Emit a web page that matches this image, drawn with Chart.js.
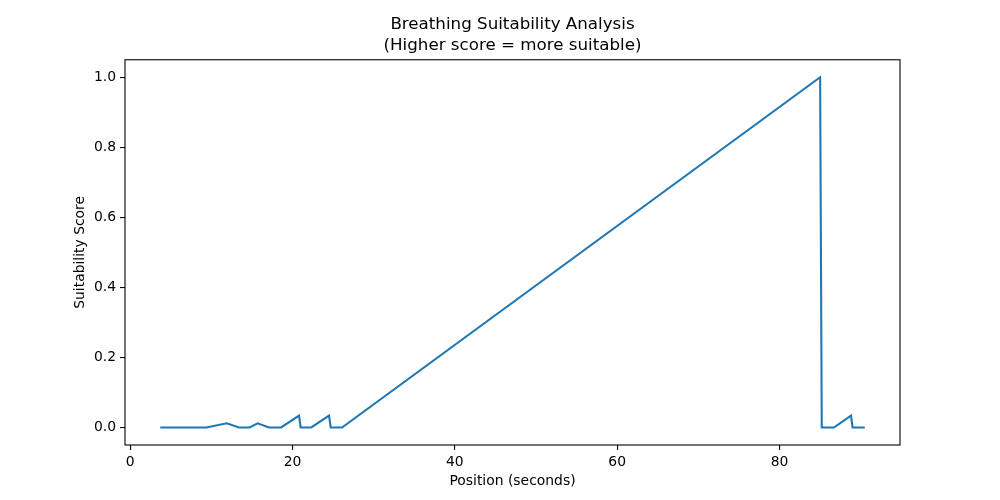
<!DOCTYPE html>
<html>
<head>
<meta charset="utf-8">
<script src="https://cdn.jsdelivr.net/npm/chart.js@4/dist/chart.umd.min.js"></script>
<style>
  html, body { margin: 0; padding: 0; background: #fff; }
</style>
</head>
<body>
<canvas id="myChart" width="1000" height="500"></canvas>
<script>
// Data
const positions = [3.7, 5.6, 7.5, 9.4, 11.9, 13.4, 14.7, 15.7, 17.1, 18.6, 20.8, 21.0, 22.3, 24.5, 24.7, 26.1, 85.0, 85.2, 86.7, 88.8, 89.0, 90.5];
const scores = [0, 0, 0, 0, 0.012, 0, 0, 0.012, 0, 0, 0.034, 0, 0, 0.034, 0, 0, 1.0, 0, 0, 0.034, 0, 0];
const xTicks = [0, 20, 40, 60, 80];
const yTicks = [0, 0.2, 0.4, 0.6, 0.8, 1.0];

const points = positions.map((p, i) => ({ x: p, y: scores[i] }));

// Frame around the plot area, and title centred over it
const frame = {
    id: 'frame',
    afterLayout(chart) {
        if (chart.titleBlock) {
            chart.titleBlock.left = chart.chartArea.left;
            chart.titleBlock.right = chart.chartArea.right;
        }
    },
    afterDraw(chart) {
        const a = chart.chartArea;
        const ctx = chart.ctx;
        ctx.save();
        ctx.strokeStyle = '#000';
        ctx.lineWidth = 1.1;
        ctx.strokeRect(a.left, a.top, a.right - a.left, a.bottom - a.top);
        ctx.restore();
    }
};

const font = { family: 'DejaVu Sans', size: 13.9 };

const ctx = document.getElementById('myChart').getContext('2d');
const myChart = new Chart(ctx, {
    type: 'scatter',
    data: {
        datasets: [{
            data: points,
            showLine: true,
            borderColor: '#1f77b4',
            borderWidth: 2.1,
            pointRadius: 0,
            fill: false,
            tension: 0
        }]
    },
    options: {
        responsive: false,
        animation: false,
        layout: { padding: { left: 0, right: 100, top: 0, bottom: 0 } },
        plugins: {
            legend: { display: false },
            tooltip: { enabled: false },
            title: {
                display: true,
                text: ['Breathing Suitability Analysis', '(Higher score = more suitable)'],
                color: '#000',
                font: { family: 'DejaVu Sans', size: 16.7, weight: 'normal', lineHeight: 1.28 },
                padding: { top: 14, bottom: 3 }
            }
        },
        scales: {
            x: {
                type: 'linear',
                min: -0.64,
                max: 94.84,
                afterBuildTicks: axis => { axis.ticks = xTicks.map(v => ({ value: v })); },
                afterFit: axis => { axis.height = 55; },
                border: { display: false },
                grid: { drawOnChartArea: false, drawTicks: true, tickLength: 5, color: '#000', lineWidth: 1.1 },
                ticks: { color: '#000', font: font, padding: 4, maxRotation: 0 },
                title: {
                    display: true,
                    text: 'Position (seconds)',
                    color: '#000',
                    font: font,
                    padding: { top: 0, bottom: 10.6 }
                }
            },
            y: {
                min: -0.05,
                max: 1.05,
                afterBuildTicks: axis => { axis.ticks = yTicks.map(v => ({ value: v })); },
                afterFit: axis => { axis.width = 125; },
                border: { display: false },
                grid: { drawOnChartArea: false, drawTicks: true, tickLength: 5, color: '#000', lineWidth: 1.1 },
                ticks: { color: '#000', font: font, padding: 4, callback: v => v.toFixed(1) },
                title: {
                    display: true,
                    text: 'Suitability Score',
                    color: '#000',
                    font: font,
                    padding: { top: 71.6, bottom: 0 }
                }
            }
        }
    },
    plugins: [frame]
});
</script>
</body>
</html>
